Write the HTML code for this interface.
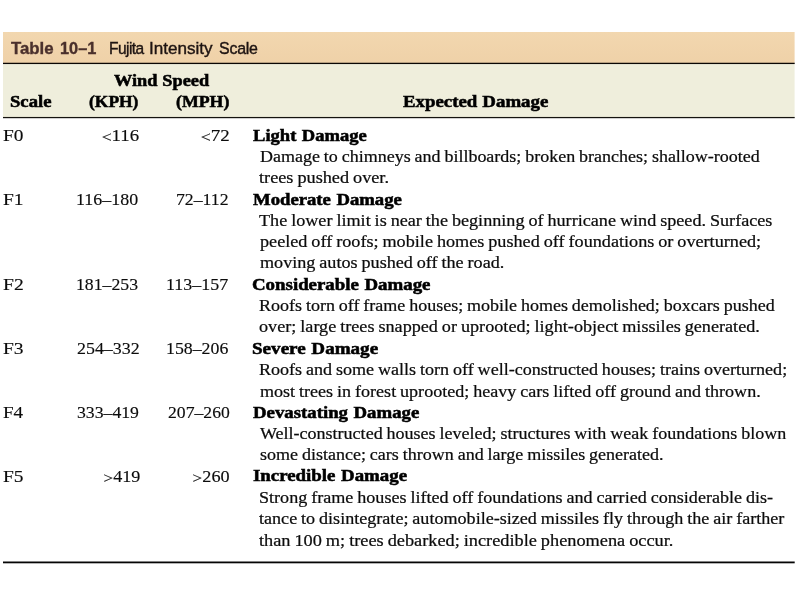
<!DOCTYPE html>
<html lang="en"><head><meta charset="utf-8"><title>Table 10–1 Fujita Intensity Scale</title>
<style>
html,body{margin:0;padding:0;background:#fff;}
body{width:800px;height:600px;position:relative;overflow:hidden;font-family:"Liberation Serif",serif;color:#111;}
.bg{position:absolute;left:0;top:0;display:block;}
.lt{display:inline-block;transform-origin:100% 95%;transform:scale(0.94,0.8);}
.t{position:absolute;white-space:pre;line-height:20px;height:20px;transform-origin:0 0;}
.r{font-family:"Liberation Serif",serif;font-size:17.5px;font-weight:normal;color:#0c0c0c;-webkit-text-stroke:0.24px #0c0c0c;word-spacing:-0.6px;}
.n{font-family:"Liberation Serif",serif;font-size:17.5px;font-weight:normal;color:#0c0c0c;-webkit-text-stroke:0.15px #0c0c0c;word-spacing:0px;}
.b{font-family:"Liberation Serif",serif;font-size:17.5px;font-weight:bold;color:#000;-webkit-text-stroke:0.55px #000;word-spacing:0.8px;}
.hb{font-family:"Liberation Serif",serif;font-size:17.2px;font-weight:bold;color:#000;-webkit-text-stroke:0.55px #000;word-spacing:0.3px;}
.tt{font-family:"Liberation Sans",sans-serif;font-size:16.8px;font-weight:bold;color:#4a302c;-webkit-text-stroke:0.35px #4a302c;word-spacing:0px;}
.ts{font-family:"Liberation Sans",sans-serif;font-size:16.7px;font-weight:normal;color:#1e1412;-webkit-text-stroke:0.4px #1e1412;word-spacing:0px;}</style></head>
<body>
<svg class="bg" width="800" height="600" viewBox="0 0 800 600"><defs><linearGradient id="g" x1="0" y1="0" x2="0" y2="1"><stop offset="0" stop-color="#f2d7af"/><stop offset="1" stop-color="#efd1a8"/></linearGradient></defs><rect x="3" y="32" width="791.6" height="31.5" fill="url(#g)"/><rect x="3" y="63.5" width="791.6" height="54" fill="#efeedc"/><rect x="3" y="62.75" width="791.7" height="1.3" fill="#0a0604"/><rect x="3" y="116.95" width="791.7" height="1.25" fill="#15130f"/><rect x="3" y="561.5" width="791.7" height="1.8" fill="#050505"/></svg>
<div class="t tt" style="left:10.93px;top:39px;transform:scaleX(1.0008)">Table</div>
<div class="t tt" style="left:59.63px;top:39px;transform:scaleX(0.9743)">10–1</div>
<div class="t ts" style="left:108.73px;top:39px;transform:scaleX(0.9304);letter-spacing:-0.583px">Fujita</div>
<div class="t ts" style="left:149.21px;top:39px;transform:scaleX(1.0236)">Intensity</div>
<div class="t ts" style="left:219.07px;top:39px;transform:scaleX(0.9548);letter-spacing:-0.230px">Scale</div>
<div class="t hb" style="left:113.60px;top:71px;transform:scaleX(1.0650)">Wind Speed</div>
<div class="t hb" style="left:10.35px;top:92px;transform:scaleX(1.0847)">Scale</div>
<div class="t hb" style="left:88.94px;top:92px;transform:scaleX(1.0150)">(KPH)</div>
<div class="t hb" style="left:176.39px;top:92px;transform:scaleX(1.0348)">(MPH)</div>
<div class="t hb" style="left:402.76px;top:92px;transform:scaleX(1.0964)">Expected Damage</div>
<div class="t n" style="left:2.89px;top:125px;transform:scaleX(1.1058)">F0</div>
<div class="t n" style="left:101.34px;top:125px;transform:scaleX(1.0745)"><span class="lt">&lt;</span>116</div>
<div class="t n" style="left:199.59px;top:125px;transform:scaleX(1.0832)"><span class="lt">&lt;</span>72</div>
<div class="t b" style="left:252.77px;top:125px;transform:scaleX(1.0610)">Light Damage</div>
<div class="t r" style="left:260.22px;top:146px;transform:scaleX(1.0281)">Damage to chimneys and billboards; broken branches; shallow-rooted</div>
<div class="t r" style="left:259.02px;top:167px;transform:scaleX(1.0428)">trees pushed over.</div>
<div class="t n" style="left:2.89px;top:189px;transform:scaleX(1.1120)">F1</div>
<div class="t n" style="left:76.43px;top:189px;transform:scaleX(1.0246)">116–180</div>
<div class="t n" style="left:176.26px;top:189px;transform:scaleX(1.0141)">72–112</div>
<div class="t b" style="left:252.77px;top:189px;transform:scaleX(1.0688)">Moderate Damage</div>
<div class="t r" style="left:259.34px;top:210px;transform:scaleX(1.0374)">The lower limit is near the beginning of hurricane wind speed. Surfaces</div>
<div class="t r" style="left:259.57px;top:231px;transform:scaleX(1.0388)">peeled off roofs; mobile homes pushed off foundations or overturned;</div>
<div class="t r" style="left:259.54px;top:252px;transform:scaleX(1.0361)">moving autos pushed off the road.</div>
<div class="t n" style="left:2.86px;top:274px;transform:scaleX(1.1224)">F2</div>
<div class="t n" style="left:76.44px;top:274px;transform:scaleX(1.0140)">181–253</div>
<div class="t n" style="left:166.43px;top:274px;transform:scaleX(1.0246)">113–157</div>
<div class="t b" style="left:251.60px;top:274px;transform:scaleX(1.0779)">Considerable Damage</div>
<div class="t r" style="left:258.68px;top:295px;transform:scaleX(1.0288)">Roofs torn off frame houses; mobile homes demolished; boxcars pushed</div>
<div class="t r" style="left:259.23px;top:316px;transform:scaleX(1.0385)">over; large trees snapped or uprooted; light-object missiles generated.</div>
<div class="t n" style="left:2.89px;top:338px;transform:scaleX(1.1132)">F3</div>
<div class="t n" style="left:77.35px;top:338px;transform:scaleX(1.0230)">254–332</div>
<div class="t n" style="left:166.44px;top:338px;transform:scaleX(1.0175)">158–206</div>
<div class="t b" style="left:252.10px;top:338px;transform:scaleX(1.0907)">Severe Damage</div>
<div class="t r" style="left:258.68px;top:359px;transform:scaleX(1.0318)">Roofs and some walls torn off well-constructed houses; trains overturned;</div>
<div class="t r" style="left:259.78px;top:381px;transform:scaleX(1.0326)">most trees in forest uprooted; heavy cars lifted off ground and thrown.</div>
<div class="t n" style="left:2.89px;top:402px;transform:scaleX(1.0889)">F4</div>
<div class="t n" style="left:77.12px;top:402px;transform:scaleX(1.0118)">333–419</div>
<div class="t n" style="left:167.85px;top:402px;transform:scaleX(1.0087)">207–260</div>
<div class="t b" style="left:252.74px;top:402px;transform:scaleX(1.0738)">Devastating Damage</div>
<div class="t r" style="left:259.78px;top:423px;transform:scaleX(1.0297)">Well-constructed houses leveled; structures with weak foundations blown</div>
<div class="t r" style="left:259.73px;top:444px;transform:scaleX(1.0296)">some distance; cars thrown and large missiles generated.</div>
<div class="t n" style="left:2.89px;top:466px;transform:scaleX(1.1085)">F5</div>
<div class="t n" style="left:102.83px;top:466px;transform:scaleX(1.0351)"><span class="lt">&gt;</span>419</div>
<div class="t n" style="left:191.58px;top:466px;transform:scaleX(1.0410)"><span class="lt">&gt;</span>260</div>
<div class="t b" style="left:253.15px;top:465px;transform:scaleX(1.0780)">Incredible Damage</div>
<div class="t r" style="left:258.70px;top:487px;transform:scaleX(1.0339)">Strong frame houses lifted off foundations and carried considerable dis-</div>
<div class="t r" style="left:259.02px;top:508px;transform:scaleX(1.0336)">tance to disintegrate; automobile-sized missiles fly through the air farther</div>
<div class="t r" style="left:259.02px;top:530px;transform:scaleX(1.0459)">than 100 m; trees debarked; incredible phenomena occur.</div>
</body></html>
